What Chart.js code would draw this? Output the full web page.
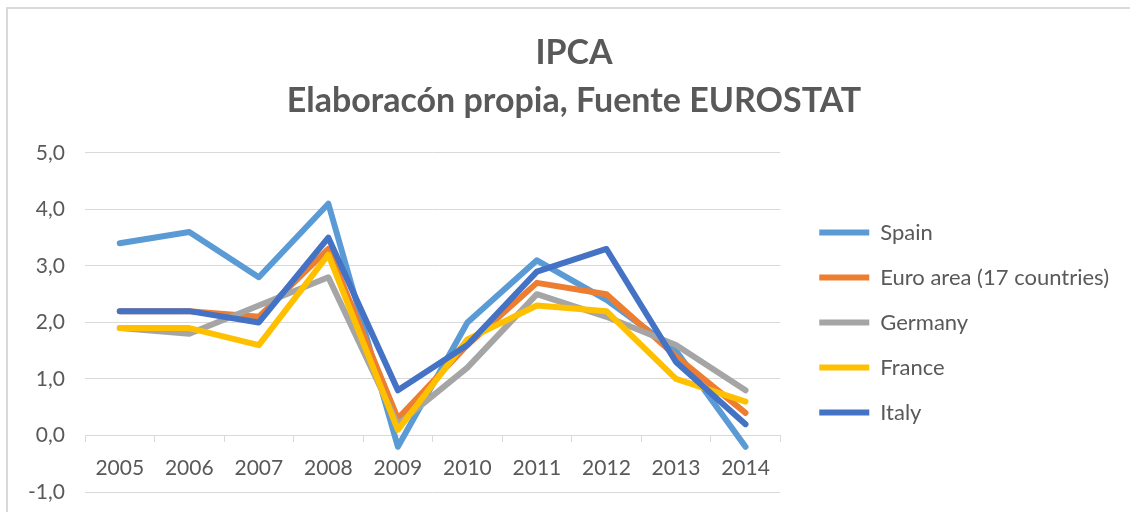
<!DOCTYPE html>
<html><head><meta charset="utf-8">
<script src="https://cdn.jsdelivr.net/npm/chart.js@4"></script>
<style>
html,body{margin:0;padding:0;background:#fff;overflow:hidden;width:1130px;height:512px;}
#frame{position:absolute;left:6px;top:7px;width:2000px;height:2000px;border-top:2px solid #d9d9d9;border-left:2px solid #d9d9d9;}
#wrap{position:absolute;left:0;top:0;width:1130px;height:512px;}
</style></head><body>
<div id="frame"></div>
<div id="wrap"><canvas id="c" width="1130" height="512"></canvas></div>
<script>
const categories = ['2005','2006','2007','2008','2009','2010','2011','2012','2013','2014'];
const spain    = [3.4, 3.6, 2.8, 4.1, -0.2, 2.0, 3.1, 2.4, 1.5, -0.2];
const euroArea = [2.2, 2.2, 2.1, 3.3, 0.3, 1.6, 2.7, 2.5, 1.4, 0.4];
const germany  = [1.9, 1.8, 2.3, 2.8, 0.2, 1.2, 2.5, 2.1, 1.6, 0.8];
const france   = [1.9, 1.9, 1.6, 3.2, 0.1, 1.7, 2.3, 2.2, 1.0, 0.6];
const italy    = [2.2, 2.2, 2.0, 3.5, 0.8, 1.6, 2.9, 3.3, 1.3, 0.2];
const seriesNames = ['Spain', 'Euro area (17 countries)', 'Germany', 'France', 'Italy'];
const seriesColors = ['#5B9BD5', '#ED7D31', '#A5A5A5', '#FFC000', '#4472C4'];
const titleLines = ['IPCA', 'Elaboracón propia, Fuente EUROSTAT'];
const yMin = -1, yMax = 5, yStep = 1;

const TXT = '#595959';
const FONT = 'Lato';
const seriesData = [spain, euroArea, germany, france, italy];

const datasets = seriesData.map((d, i) => ({
  label: seriesNames[i],
  data: d,
  borderColor: seriesColors[i],
  backgroundColor: seriesColors[i],
  borderWidth: 6,
  borderCapStyle: 'round',
  borderJoinStyle: 'round',
  pointRadius: 0,
  pointHoverRadius: 0,
  tension: 0,
  fill: false,
  order: seriesData.length - i
}));

new Chart(document.getElementById('c'), {
  type: 'line',
  data: { labels: categories, datasets },
  options: {
    responsive: false,
    animation: false,
    events: [],
    layout: { padding: { left: 29, right: 11, top: 0, bottom: 20 } },
    plugins: {
      tooltip: { enabled: false },
      title: {
        display: true,
        text: titleLines,
        color: TXT,
        font: { family: FONT, size: 34, weight: 'bold', lineHeight: 1.41 },
        padding: { top: 29, bottom: 28 }
      },
      legend: {
        position: 'right',
        align: 'center',
        fullSize: false,
        maxWidth: 330,
        labels: {
          color: TXT,
          font: { family: FONT, size: 22 },
          usePointStyle: true,
          pointStyle: 'line',
          pointStyleWidth: 50,
          boxHeight: 22,
          padding: 23,
          sort: (a, b) => a.datasetIndex - b.datasetIndex
        }
      }
    },
    scales: {
      x: {
        type: 'category',
        offset: true,
        position: { y: 0 },
        afterFit: s => { s.height = 0; },
        grid: { display: true, drawOnChartArea: false, drawTicks: true, tickLength: 6, color: '#d9d9d9', offset: true },
        border: { display: true, color: '#d9d9d9', width: 1 },
        ticks: { color: TXT, font: { family: FONT, size: 21 }, padding: 14, maxRotation: 0, autoSkip: false }
      },
      y: {
        type: 'linear',
        min: yMin, max: yMax,
        afterFit: s => { s.width = 56; s.paddingTop = 0; s.paddingBottom = 0; },
        grid: { color: '#d9d9d9', drawTicks: false },
        border: { display: false },
        ticks: { stepSize: yStep, color: TXT, font: { family: FONT, size: 21 }, padding: 20,
                 callback: v => v.toFixed(1).replace('.', ',') }
      },
      yR: {
        type: 'linear',
        position: 'right',
        display: true,
        afterFit: s => { s.width = 16; s.paddingTop = 0; s.paddingBottom = 0; },
        grid: { display: false },
        border: { display: false },
        ticks: { display: false }
      }
    }
  }
});
</script>
</body></html>
